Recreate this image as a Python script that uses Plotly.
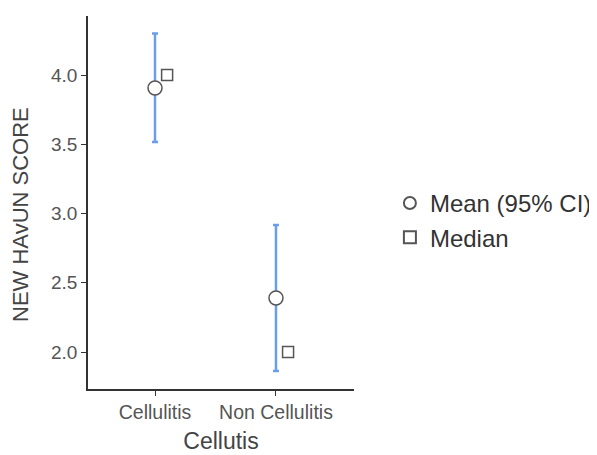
import plotly.graph_objects as go

categories = ["Cellulitis", "Non Cellulitis"]
means = [3.906, 2.39]
ci_upper = [4.30, 2.917]
ci_lower = [3.516, 1.863]
medians = [4.0, 2.0]
y_ticks = [2.0, 2.5, 3.0, 3.5, 4.0]

x_pos = list(range(len(categories)))
median_offset = 0.1

fig = go.Figure()
fig.add_trace(go.Scatter(
    x=x_pos, y=means, mode="markers", name="Mean (95% CI)",
    marker=dict(symbol="circle", size=14, color="white",
                line=dict(color="#555555", width=1.5)),
    error_y=dict(type="data", symmetric=False,
                 array=[u - m for u, m in zip(ci_upper, means)],
                 arrayminus=[m - l for m, l in zip(means, ci_lower)],
                 color="#6b9ded", thickness=2.5, width=3),
))
fig.add_trace(go.Scatter(
    x=[p + median_offset for p in x_pos], y=medians, mode="markers", name="Median",
    marker=dict(symbol="square", size=11, color="white",
                line=dict(color="#555555", width=1.5)),
))

fig.update_layout(
    width=597, height=455,
    margin=dict(l=80, r=251, t=8, b=74),
    plot_bgcolor="white", paper_bgcolor="white",
    font=dict(family="Liberation Sans, Arial, sans-serif", color="#333333"),
    showlegend=True,
    legend=dict(x=1.135, y=0.452, xanchor="left", yanchor="middle",
                font=dict(size=24, color="#333333"), itemsizing="constant",
                tracegroupgap=0, bgcolor="rgba(0,0,0,0)"),
    xaxis=dict(range=[-0.554, 1.645], tickvals=x_pos, ticktext=categories,
               showline=True, linecolor="#333333", linewidth=1.5,
               ticks="outside", ticklen=5, tickcolor="#333333",
               showgrid=False, zeroline=False,
               tickfont=dict(size=19.5, color="#555555"),
               title=dict(text="Cellutis", font=dict(size=23, color="#444444"), standoff=11)),
    yaxis=dict(range=[1.733, 4.426], tickvals=y_ticks, ticktext=[f"{v:.1f}" for v in y_ticks],
               showline=True, linecolor="#333333", linewidth=1.5,
               ticks="outside", ticklen=5, tickcolor="#333333",
               showgrid=False, zeroline=False,
               tickfont=dict(size=19, color="#555555")),
    annotations=[dict(text="NEW HAvUN SCORE", xref="paper", yref="paper",
                      x=-0.256, y=0.469, xanchor="center", yanchor="middle",
                      textangle=-90, showarrow=False,
                      font=dict(size=22, color="#444444"))],
)

fig.write_html("out.html")
